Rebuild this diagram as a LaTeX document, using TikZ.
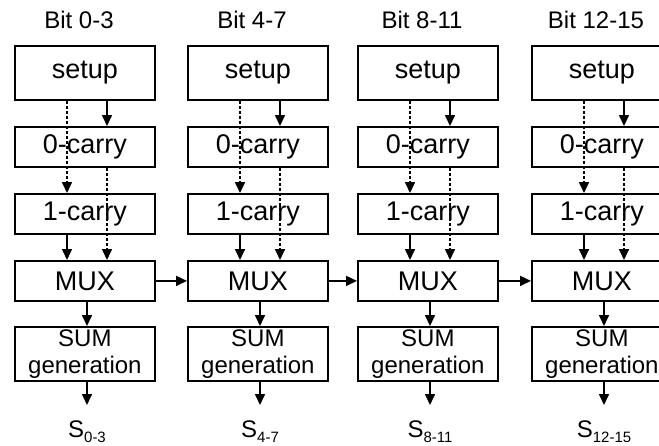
\documentclass[tikz,border=0pt]{standalone}
\usepackage{fontspec}
\setmainfont{Liberation Sans}
\usetikzlibrary{arrows.meta}
\begin{document}
\begin{tikzpicture}[x=1pt,y=-1pt,
  blk/.style={draw, line width=1.8pt, minimum width=140pt, inner sep=0pt, anchor=north west,
              font=\fontsize{27}{27}\selectfont, align=center},
  sumblk/.style={blk, font=\fontsize{24}{26.5}\selectfont},
  arr/.style={line width=1.6pt, -{Triangle[length=11pt,width=10pt]}},
  dsh/.style={arr, dash pattern=on 3pt off 2pt},
  ttl/.style={font=\fontsize{24}{24}\selectfont, inner sep=0pt},
  slab/.style={font=\fontsize{24}{24}\selectfont, inner sep=0pt},
  ]
\useasboundingbox (0,0) rectangle (659,445);
\clip (0,0) rectangle (659,445);
\foreach \i/\L/\t in {1/14/0-3, 2/187/4-7, 3/357/8-11, 4/531/12-15}{
  \node[ttl] (title\i) at (\L+65,20) {Bit \t};
  \node[blk, minimum height=54pt] (setup\i) at (\L,45) {setup};
  \node[blk, minimum height=40pt] (zero\i) at (\L,126) {0-carry};
  \node[blk, minimum height=40pt] (one\i) at (\L,193) {1-carry};
  \node[blk, minimum height=40pt] (mux\i) at (\L,260) {MUX};
  \node[sumblk, minimum height=54pt] (sum\i) at (\L,326) {SUM\\generation};
  \coordinate (a\i) at (\L+53,0);
  \coordinate (b\i) at (\L+93,0);
  \coordinate (c\i) at (\L+73,0);
  \coordinate (out\i) at (\L+73,405);
  \node[slab] (s\i) at (\L+73,432) {S\raisebox{-5pt}{\fontsize{15}{15}\selectfont\t}};
  \draw[arr] (setup\i.south -| b\i) -- (zero\i.north -| b\i);
  \draw[dsh] (setup\i.south -| a\i) -- (one\i.north -| a\i);
  \draw[dsh] (zero\i.south -| b\i) -- (mux\i.north -| b\i);
  \draw[arr] (one\i.south -| a\i) -- (mux\i.north -| a\i);
  \draw[arr] (mux\i.south -| c\i) -- (sum\i.north -| c\i);
  \draw[arr] (sum\i.south -| c\i) -- (out\i);
}
\draw[arr] (mux1.east) -- (mux2.west);
\draw[arr] (mux2.east) -- (mux3.west);
\draw[arr] (mux3.east) -- (mux4.west);
\end{tikzpicture}
\end{document}
